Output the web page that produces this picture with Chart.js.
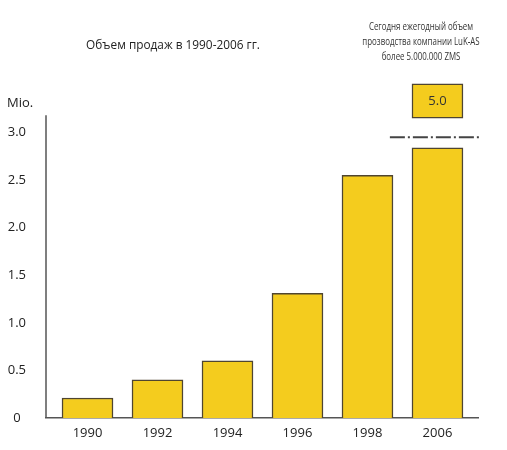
<!DOCTYPE html>
<html>
<head>
<meta charset="utf-8">
<script src="https://cdn.jsdelivr.net/npm/chart.js@4.4.1/dist/chart.umd.min.js"></script>
<style>
html,body{margin:0;padding:0;background:#fff;}
#wrap{width:507px;height:450px;}
</style>
</head>
<body>
<div id="wrap"><canvas id="c" width="507" height="450"></canvas></div>
<script>
const years = ['1990','1992','1994','1996','1998','2006'];
const sales = [0.21, 0.40, 0.60, 1.31, 2.55, 2.84];
const topBox = [3.15, 3.51];
const topBoxLabel = '5.0';
const breakY = 2.95;
const breakX = [4.32, 5.61];
const yTicks = [0, 0.5, 1.0, 1.5, 2.0, 2.5, 3.0];
const yAxisTop = 3.18;
const titleText = 'Объем продаж в 1990-2006 гг.';
const noteLines = ['Сегодня ежегодный объем', 'прозводства компании LuK-AS', 'более 5.000.000 ZMS'];
const unitText = 'Mio.';

const FONT = '"Open Sans", "Noto Sans", sans-serif';
const YELLOW = '#F4CC1E';
const EDGE = '#4f4530';

function squeezedText(ctx, text, cx, cy, sx) {
  ctx.save();
  ctx.translate(cx, cy);
  ctx.scale(sx, 1);
  ctx.fillText(text, 0, 0);
  ctx.restore();
}

const textPlugin = {
  id: 'texts',
  afterDatasetsDraw(chart) {
    const ctx = chart.ctx;
    const ys = chart.scales.y;
    const ca = chart.chartArea;
    ctx.save();
    ctx.strokeStyle = '#555';
    ctx.lineWidth = 1.5;
    ctx.beginPath();
    ctx.moveTo(ca.left, ys.getPixelForValue(0));
    ctx.lineTo(ca.left, ys.getPixelForValue(yAxisTop));
    ctx.stroke();
    const meta = chart.getDatasetMeta(1);
    const el = meta.data[0];
    if (el) {
      ctx.fillStyle = '#333';
      ctx.font = '13px ' + FONT;
      ctx.textAlign = 'center';
      ctx.textBaseline = 'middle';
      ctx.fillText(topBoxLabel, el.x, (el.y + el.base) / 2);
    }
    ctx.fillStyle = '#222';
    ctx.font = '13px ' + FONT;
    ctx.textAlign = 'center';
    ctx.textBaseline = 'middle';
    squeezedText(ctx, titleText, 173, 45, 0.91);
    ctx.font = '10px ' + FONT;
    ctx.fillStyle = '#333';
    noteLines.forEach((l, i) => squeezedText(ctx, l, 421, 27 + i * 15, 0.79));
    ctx.font = '13px ' + FONT;
    ctx.fillStyle = '#222';
    ctx.textAlign = 'left';
    ctx.fillText(unitText, 7, 103);
    ctx.restore();
  }
};

new Chart(document.getElementById('c'), {
  type: 'bar',
  data: {
    datasets: [
      {
        data: sales.map((v, i) => ({x: i, y: v})),
        backgroundColor: YELLOW,
        borderColor: EDGE,
        borderWidth: 1.5,
        borderSkipped: 'bottom',
        barThickness: 51,
        grouped: false,
        order: 2
      },
      {
        data: [{x: years.length - 1, y: topBox}],
        backgroundColor: YELLOW,
        borderColor: EDGE,
        borderWidth: 1.5,
        borderSkipped: false,
        barThickness: 51,
        grouped: false,
        order: 2
      },
      {
        type: 'line',
        data: breakX.map(x => ({x: x, y: breakY})),
        borderColor: '#444',
        borderWidth: 2,
        borderDash: [15, 3, 2, 3],
        pointRadius: 0,
        clip: false,
        order: 1
      }
    ]
  },
  options: {
    responsive: false,
    animation: false,
    events: [],
    layout: {padding: {left: 0, right: 29, top: 83, bottom: 0}},
    plugins: {legend: {display: false}, tooltip: {enabled: false}, title: {display: false}},
    scales: {
      x: {
        type: 'linear',
        offset: false,
        min: -0.593,
        max: 5.579,
        grid: {display: false, drawTicks: false},
        border: {display: true, color: '#555', width: 1.5},
        afterBuildTicks: s => { s.ticks = years.map((_, i) => ({value: i})); },
        afterFit: s => { s.height = 32; },
        ticks: {
          autoSkip: false,
          maxRotation: 0,
          padding: 7,
          color: '#222',
          font: {family: FONT, size: 13},
          callback: v => years[v]
        }
      },
      y: {
        type: 'linear',
        min: 0,
        max: 3.52,
        grid: {display: false, drawTicks: false},
        border: {display: false},
        afterBuildTicks: s => { s.ticks = yTicks.map(v => ({value: v})); },
        afterFit: s => { s.width = 46; },
        ticks: {
          crossAlign: 'center',
          padding: 20,
          color: '#222',
          font: {family: FONT, size: 13},
          callback: v => v === 0 ? '0' : v.toFixed(1)
        }
      }
    }
  },
  plugins: [textPlugin]
});
</script>
</body>
</html>
